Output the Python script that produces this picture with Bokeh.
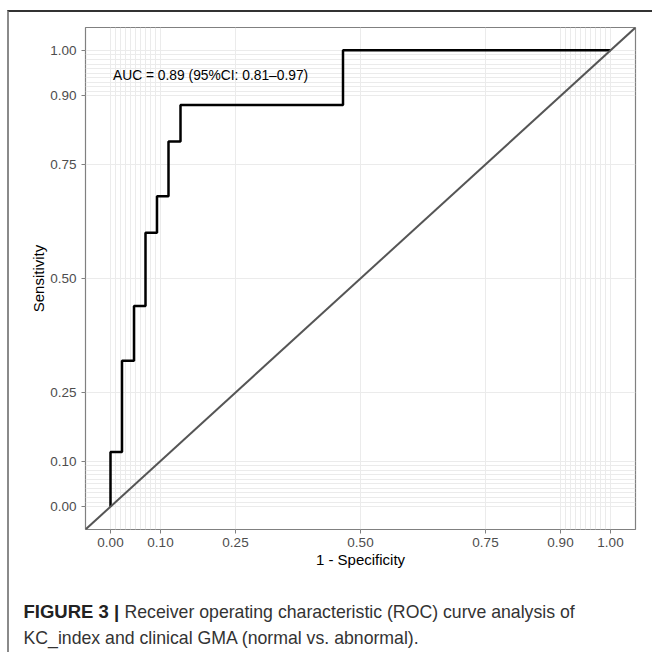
from bokeh.plotting import figure
from bokeh.models import Range1d, FixedTicker, Slope, Label
from bokeh.layouts import column
from bokeh.embed import file_html
from bokeh.resources import INLINE

# ROC curve corner points (1 - specificity, sensitivity)
fpr = [0.0, 0.023, 0.047, 0.070, 0.093, 0.116, 0.140, 0.465, 1.0]
tpr = [0.0, 0.12, 0.32, 0.44, 0.60, 0.68, 0.80, 0.88, 1.0]

tick_values = [0.0, 0.10, 0.25, 0.50, 0.75, 0.90, 1.0]
tick_labels = ["0.00", "0.10", "0.25", "0.50", "0.75", "0.90", "1.00"]
grid_values = ([0.0, 0.01, 0.02, 0.03, 0.04, 0.05, 0.06, 0.07, 0.08, 0.09, 0.10,
                0.25, 0.50, 0.75,
                0.90, 0.91, 0.92, 0.93, 0.94, 0.95, 0.96, 0.97, 0.98, 0.99, 1.0])

auc_text = "AUC = 0.89 (95%CI: 0.81\u20130.97)"
auc_x, auc_y = 0.005, 0.945
x_title = "1 - Specificity"
y_title = "Sensitivity"
caption_bold = "FIGURE 3 |"
caption_line1 = "Receiver operating characteristic (ROC) curve analysis of"
caption_line2 = "KC_index and clinical GMA (normal vs. abnormal)."

# staircase path from the corners
sx, sy = [fpr[0]], [tpr[0]]
for i in range(1, len(fpr)):
    sx.append(fpr[i - 1]); sy.append(tpr[i])
    sx.append(fpr[i]); sy.append(tpr[i])

p = figure(width=643, height=558, output_backend="svg", toolbar_location=None,
           x_range=Range1d(-0.05, 1.05), y_range=Range1d(-0.05, 1.05),
           min_border_left=76, min_border_right=17, min_border_top=15,
           min_border_bottom=41)
p.frame_align = False
p.background_fill_color = "white"
p.border_fill_color = "white"
p.outline_line_color = "#808080"
p.outline_line_width = 1.2

for g in (p.xgrid, p.ygrid):
    g.ticker = FixedTicker(ticks=grid_values)
    g.grid_line_color = "#ebebeb"
    g.grid_line_width = 1

overrides = dict(zip(tick_values, tick_labels))
for ax in (p.xaxis, p.yaxis):
    ax.ticker = FixedTicker(ticks=tick_values)
    ax.major_label_overrides = overrides
    ax.axis_line_color = None
    ax.major_tick_in = 0
    ax.major_tick_out = 4
    ax.major_tick_line_color = "#808080"
    ax.minor_tick_line_color = None
    ax.major_label_text_font = "Liberation Sans"
    ax.major_label_text_font_size = "13.5px"
    ax.major_label_text_color = "#4d4d4d"
    ax.axis_label_text_font = "Liberation Sans"
    ax.axis_label_text_font_size = "15px"
    ax.axis_label_text_font_style = "normal"
    ax.axis_label_text_color = "black"
p.xaxis.major_label_standoff = 4
p.xaxis.axis_label_standoff = 1
p.yaxis.major_label_standoff = 5
p.yaxis.axis_label_standoff = 0
p.xaxis.axis_label = x_title
p.yaxis.axis_label = y_title

p.add_layout(Slope(gradient=1, y_intercept=0, line_color="#555555", line_width=2))
p.line(sx, sy, line_color="black", line_width=2.5)

p.add_layout(Label(x=auc_x, y=auc_y, text=auc_text, text_font="Liberation Sans",
                   text_font_size="13.8px", text_color="black",
                   text_baseline="middle", text_align="left"))

# caption panel
c = figure(width=643, height=82, output_backend="svg", toolbar_location=None,
           x_range=Range1d(0, 643), y_range=Range1d(82, 0),
           x_axis_type=None, y_axis_type=None,
           min_border_left=0, min_border_right=0, min_border_top=0, min_border_bottom=0)
c.frame_align = False
c.outline_line_color = None
c.xgrid.visible = False
c.ygrid.visible = False
c.background_fill_color = "white"
c.border_fill_color = "white"
c.add_layout(Label(x=14, y=41, text=caption_bold, text_font="Liberation Sans",
                   text_font_style="bold", text_font_size="18.5px",
                   text_color="#222222", text_baseline="alphabetic"))
c.add_layout(Label(x=115, y=41, text=caption_line1, text_font="Liberation Sans",
                   text_font_size="17.7px", text_color="#333333",
                   text_baseline="alphabetic"))
c.add_layout(Label(x=14, y=67, text=caption_line2, text_font="Liberation Sans",
                   text_font_size="17.7px", text_color="#333333",
                   text_baseline="alphabetic"))

layout = column(p, c, spacing=0,
                styles={"margin-left": "7px", "margin-top": "10px",
                        "border-left": "2px solid #8a8a8a",
                        "border-top": "2px solid #333333"})

open("out.html", "w").write(file_html(layout, INLINE))
